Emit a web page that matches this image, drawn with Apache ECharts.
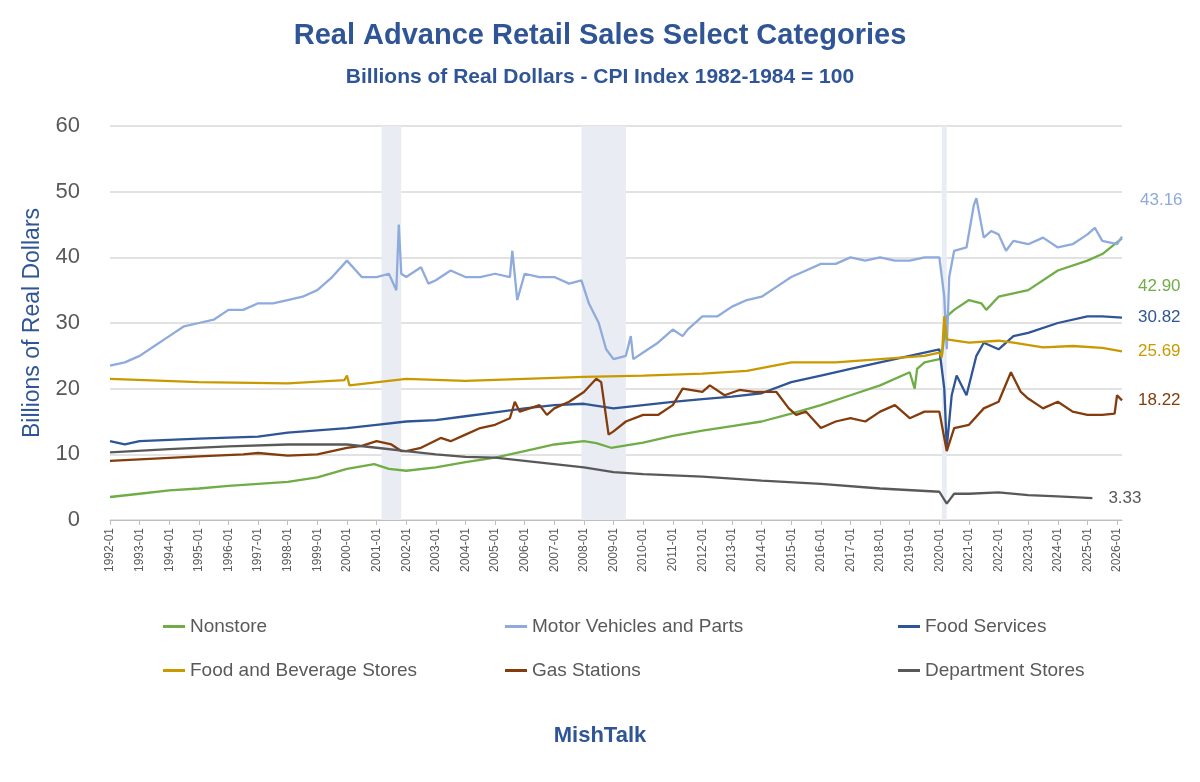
<!DOCTYPE html>
<html><head><meta charset="utf-8">
<script src="https://cdn.jsdelivr.net/npm/echarts@6/dist/echarts.min.js"></script>
<style>html,body{margin:0;padding:0;background:#fff}#c{width:1200px;height:782px}</style>
</head><body><div id="c"></div>
<script>
const motor = [['1992-01',23.5],['1992-07',24],['1993-01',25],['1993-07',26.5],['1994-01',28],['1994-07',29.5],['1995-01',30],['1995-07',30.5],['1996-01',32],['1996-07',32],['1997-01',33],['1997-07',33],['1998-01',33.5],['1998-07',34],['1999-01',35],['1999-07',37],['2000-01',39.5],['2000-07',37],['2001-01',37],['2001-06',37.5],['2001-09',35],['2001-10',45],['2001-11',37.5],['2002-01',37],['2002-07',38.5],['2002-10',36],['2003-01',36.5],['2003-07',38],['2004-01',37],['2004-07',37],['2005-01',37.5],['2005-07',37],['2005-08',41],['2005-10',33.5],['2006-01',37.5],['2006-07',37],['2007-01',37],['2007-07',36],['2007-12',36.5],['2008-03',33],['2008-07',30],['2008-10',26],['2009-01',24.5],['2009-06',25],['2009-08',28],['2009-09',24.5],['2010-01',25.5],['2010-07',27],['2011-01',29],['2011-05',28],['2011-07',29],['2012-01',31],['2012-07',31],['2013-01',32.5],['2013-07',33.5],['2014-01',34],['2014-07',35.5],['2015-01',37],['2015-07',38],['2016-01',39],['2016-07',39],['2017-01',40],['2017-07',39.5],['2018-01',40],['2018-07',39.5],['2019-01',39.5],['2019-07',40],['2020-01',40],['2020-03',34],['2020-04',26],['2020-05',37],['2020-07',41],['2020-12',41.5],['2021-03',48],['2021-04',49],['2021-07',43],['2021-10',44],['2022-01',43.5],['2022-04',41],['2022-07',42.5],['2023-01',42],['2023-07',43],['2024-01',41.5],['2024-07',42],['2025-01',43.5],['2025-04',44.5],['2025-07',42.5],['2026-01',42],['2026-03',43.16]];
const nonstore = [['1992-01',3.5],['1993-01',4],['1994-01',4.5],['1995-01',4.8],['1996-01',5.2],['1997-01',5.5],['1998-01',5.8],['1999-01',6.5],['2000-01',7.8],['2000-12',8.5],['2001-06',7.8],['2002-01',7.5],['2003-01',8],['2004-01',8.8],['2005-01',9.5],['2006-01',10.5],['2007-01',11.5],['2008-01',12],['2008-06',11.7],['2008-12',11],['2010-01',11.8],['2011-01',12.8],['2012-01',13.6],['2013-01',14.3],['2014-01',15],['2015-01',16.2],['2016-01',17.5],['2017-01',19],['2018-01',20.5],['2019-01',22.5],['2019-03',20],['2019-04',23],['2019-07',24],['2020-01',24.5],['2020-02',25],['2020-04',31],['2020-07',32],['2021-01',33.5],['2021-06',33],['2021-08',32],['2022-01',34],['2023-01',35],['2024-01',38],['2025-01',39.5],['2025-07',40.5],['2026-03',42.9]];
const foodServices = [['1992-01',12],['1992-07',11.5],['1993-01',12],['1995-01',12.4],['1997-01',12.7],['1998-01',13.3],['2000-01',14],['2001-01',14.5],['2002-01',15],['2003-01',15.2],['2004-01',15.8],['2005-01',16.4],['2006-01',17],['2007-01',17.5],['2008-01',17.7],['2009-01',17],['2010-01',17.5],['2011-01',18],['2012-01',18.4],['2013-01',18.8],['2014-01',19.3],['2015-01',21],['2016-01',22],['2017-01',23],['2018-01',24],['2019-01',25],['2020-01',26],['2020-03',20],['2020-04',11],['2020-06',19],['2020-08',22],['2020-12',19],['2021-04',25],['2021-07',27],['2022-01',26],['2022-07',28],['2023-01',28.5],['2024-01',30],['2025-01',31],['2025-07',31],['2026-03',30.82]];
const foodBev = [['1992-01',21.5],['1995-01',21],['1998-01',20.8],['1999-12',21.3],['2000-01',22],['2000-02',20.5],['2002-01',21.5],['2004-01',21.2],['2006-01',21.5],['2008-01',21.8],['2010-01',22],['2012-01',22.3],['2013-07',22.7],['2015-01',24],['2016-07',24],['2018-01',24.5],['2019-07',25],['2020-01',25.5],['2020-02',24.8],['2020-03',31],['2020-04',27.5],['2021-01',27],['2022-01',27.3],['2022-07',27],['2023-07',26.3],['2024-07',26.5],['2025-07',26.2],['2026-03',25.69]];
const gas = [['1992-01',9],['1995-01',9.7],['1996-07',10],['1997-01',10.2],['1998-01',9.8],['1999-01',10],['2000-01',11],['2000-07',11.3],['2001-01',12],['2001-07',11.5],['2001-11',10.5],['2002-01',10.5],['2002-07',11],['2003-03',12.5],['2003-07',12],['2004-01',13],['2004-07',14],['2005-01',14.5],['2005-07',15.5],['2005-09',18],['2005-11',16.5],['2006-07',17.5],['2006-10',16],['2007-01',17],['2007-07',18],['2008-01',19.5],['2008-06',21.5],['2008-08',21],['2008-11',13],['2009-01',13.5],['2009-06',15],['2010-01',16],['2010-07',16],['2011-01',17.5],['2011-05',20],['2012-01',19.5],['2012-04',20.5],['2012-10',19],['2013-04',19.8],['2013-10',19.5],['2014-07',19.5],['2014-12',17],['2015-03',16],['2015-07',16.5],['2016-01',14],['2016-07',15],['2017-01',15.5],['2017-07',15],['2018-01',16.5],['2018-07',17.5],['2019-01',15.5],['2019-07',16.5],['2020-01',16.5],['2020-04',10.5],['2020-07',14],['2021-01',14.5],['2021-07',17],['2022-01',18],['2022-06',22.5],['2022-10',19.5],['2023-01',18.5],['2023-07',17],['2024-01',18],['2024-07',16.5],['2025-01',16],['2025-07',16],['2025-12',16.2],['2026-01',19],['2026-03',18.22]];
const dept = [['1992-01',10.3],['1994-01',10.8],['1996-01',11.2],['1998-01',11.5],['2000-01',11.5],['2001-01',11],['2002-01',10.5],['2003-01',10],['2004-01',9.6],['2005-01',9.5],['2006-01',9],['2007-01',8.5],['2008-01',8],['2009-01',7.3],['2010-01',7],['2012-01',6.6],['2014-01',6],['2016-01',5.5],['2018-01',4.8],['2020-01',4.3],['2020-04',2.5],['2020-07',4],['2021-01',4],['2022-01',4.2],['2023-01',3.8],['2024-01',3.6],['2025-03',3.33]];
const recessions = [['2001-03','2001-11'],['2007-12','2009-06'],['2020-02','2020-04']];
const months = [];
for (let y = 1992; y <= 2026; y++) for (let m = 1; m <= 12; m++) { if (y === 2026 && m > 3) break; months.push(y + '-' + String(m).padStart(2,'0')); }

const names = ['Nonstore','Motor Vehicles and Parts','Food Services','Food and Beverage Stores','Gas Stations','Department Stores'];
const colors = ['#70AD47','#8FAADC','#2F5597','#C99A00','#843C0C','#595959'];
const datas = [nonstore, motor, foodServices, foodBev, gas, dept];
const endOffsets = [[8,48],[10,-36],[8,0],[8,0],[8,0],[8,0]];
const series = names.map((n,i)=>({
  name:n, type:'line', data:datas[i], showSymbol:false, symbol:'none',
  lineStyle:{width:2.3,color:colors[i]}, itemStyle:{color:colors[i]},
  endLabel:{show:true, formatter:p=>p.value[1].toFixed(2), color:colors[i], fontSize:17, fontFamily:'Liberation Sans', offset:endOffsets[i]},
  z: 3
}));
series[0].markArea = {silent:true, itemStyle:{color:'#E9EDF3'}, data: recessions.map(r=>[{xAxis:r[0]},{xAxis:r[1]}])};
const legendX = [158,500,893];
const legends = names.map((n,i)=>({data:[n], left:legendX[i%3], top: i<3?612:656, icon:'rect', itemWidth:22, itemHeight:3, itemGap:8, textStyle:{fontSize:19,color:'#595959',fontFamily:'Liberation Sans'}}));
const chart = echarts.init(document.getElementById('c'));
chart.setOption({
  color: colors, animation:false,
  title:[{text:'Real Advance Retail Sales Select Categories', left:'center', top:16, textStyle:{fontSize:29,fontWeight:'bold',color:'#2F5597',fontFamily:'Liberation Sans'}},
         {text:'Billions of Real Dollars - CPI Index 1982-1984 = 100', left:'center', top:62, textStyle:{fontSize:21,fontWeight:'bold',color:'#2F5597',fontFamily:'Liberation Sans'}},
         {text:'MishTalk', left:'center', top:720, textStyle:{fontSize:22,fontWeight:'bold',color:'#2F5597',fontFamily:'Liberation Sans'}}],
  legend: legends,
  grid:{left:110, right:78, top:126, bottom:262},
  xAxis:{type:'category', data:months, boundaryGap:false,
    axisLine:{lineStyle:{color:'#BFBFBF'}},
    axisTick:{interval:11, lineStyle:{color:'#BFBFBF'}},
    axisLabel:{interval:11, rotate:90, fontSize:12, color:'#595959', fontFamily:'Liberation Sans'}},
  yAxis:{type:'value', min:0, max:60, interval:10, name:'Billions of Real Dollars', nameLocation:'middle', nameGap:60,
    nameTextStyle:{fontSize:23,color:'#2F5597',fontFamily:'Liberation Sans'},
    axisLabel:{fontSize:22,color:'#595959',fontFamily:'Liberation Sans', margin:30},
    splitLine:{lineStyle:{color:'#D9D9D9',width:1.5}}},
  series: series
});
</script></body></html>
